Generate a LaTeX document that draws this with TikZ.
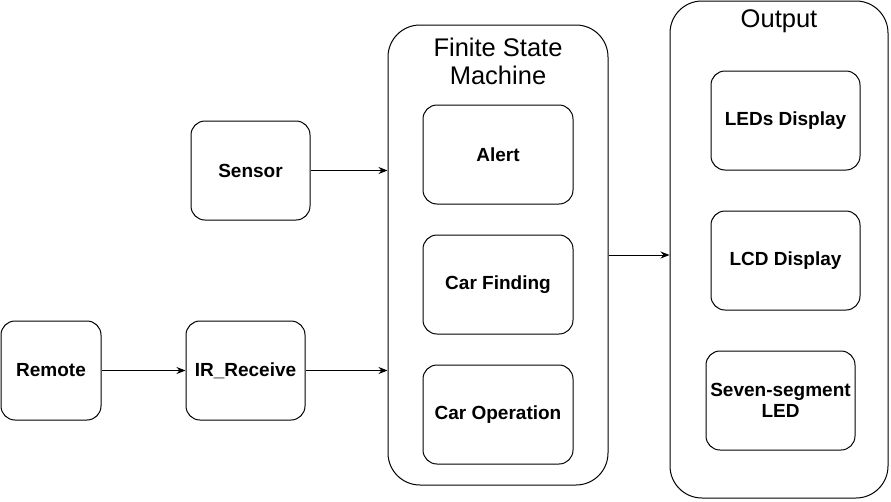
\documentclass[tikz,border=0pt]{standalone}
\usepackage{fontspec}
\setmainfont{Liberation Sans}
\usetikzlibrary{arrows.meta}
\begin{document}
\begin{tikzpicture}[x=1pt,y=-1pt,
  box/.style={draw=black, line width=1pt, rounded corners=14pt, fill=white, align=center,
    font=\fontsize{19}{21}\selectfont\bfseries, inner sep=0pt},
  container/.style={draw=black, line width=1pt, rounded corners=32pt, inner sep=0pt},
  ttl/.style={font=\fontsize{25.5}{28}\selectfont, align=center, inner sep=0pt},
  arr/.style={draw=black, line width=0.9pt, -{Stealth[length=9pt,width=7pt]}}]
\useasboundingbox (0,0) rectangle (891,501);
\fill[white] (0,0) rectangle (891,501);
% containers
\node[container, minimum width=220pt, minimum height=460pt] (fsm) at (498,255) {};
\node[container, minimum width=218pt, minimum height=497pt] (out) at (779,249.5) {};
\node[ttl, anchor=base] (fsmt1) at (498,56.5) {Finite State};
\node[ttl, anchor=base] (fsmt2) at (498,84.5) {Machine};
\node[ttl, anchor=base] (outt) at (779,27) {Output};
% boxes
\node[box, minimum width=119pt, minimum height=99pt] (sensor) at (250.5,170.5) {Sensor};
\node[box, minimum width=100pt, minimum height=99pt] (remote) at (51,370.5) {Remote};
\node[box, minimum width=119pt, minimum height=99pt] (ir) at (245.5,370.5) {IR\_Receive};
\node[box, minimum width=150pt, minimum height=99pt] (alert) at (498,154.5) {Alert};
\node[box, minimum width=150pt, minimum height=99pt] (find) at (498,284.5) {Car Finding};
\node[box, minimum width=150pt, minimum height=99pt] (oper) at (498,414.5) {Car Operation};
\node[box, minimum width=149pt, minimum height=99pt] (leds) at (785.5,120.5) {LEDs Display};
\node[box, minimum width=149pt, minimum height=99pt] (lcd) at (785.5,260.5) {LCD Display};
\node[box, minimum width=149pt, minimum height=99pt] (seven) at (780.5,400.5) {Seven-segment\\LED};
% arrows
\draw[arr] (sensor.east) -- (sensor.east -| fsm.west);
\draw[arr] (remote.east) -- (ir.west);
\draw[arr] (ir.east) -- (ir.east -| fsm.west);
\draw[arr] (fsm.east) -- (fsm.east -| out.west);
\end{tikzpicture}
\end{document}
